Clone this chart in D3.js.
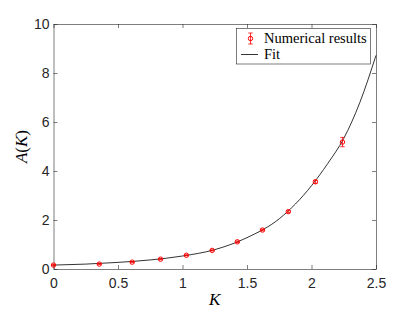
<html>
    <head>
        <style>
            body { margin: 0; background: #fff; }
            text { font-family: "Liberation Sans", Arial, sans-serif; }
        </style>
    </head>

    <body>

        <script src='https://d3js.org/d3.v7.min.js' charset='utf-8'></script>
        <script type="text/javascript">

        // data
        var kValues = [0, 0.355, 0.61, 0.83, 1.03, 1.23, 1.425, 1.62, 1.82, 2.03, 2.24];
        var aValues = [0.16, 0.2, 0.28, 0.4, 0.56, 0.76, 1.11, 1.59, 2.34, 3.56, 5.18];
        var aErrors = [0.02, 0.02, 0.02, 0.02, 0.02, 0.02, 0.03, 0.03, 0.04, 0.06, 0.19];

        // fit curve, sampled from the drawn line
        var fitK = [0, 0.25, 0.5, 0.75, 1.0, 1.25, 1.5, 1.75, 2.0, 2.125, 2.25, 2.375, 2.5];
        var fitA = [0.16, 0.2, 0.27, 0.37, 0.53, 0.79, 1.28, 2.05, 3.4, 4.3, 5.33, 6.8, 8.72];

        var xTicks = [0, 0.5, 1, 1.5, 2, 2.5];
        var yTicks = [0, 2, 4, 6, 8, 10];

        var width = 415, height = 312;
        var margin = {left: 53.5, right: 39, top: 24, bottom: 43};

        var svg = d3.select("body").append("svg")
            .attr("width", width)
            .attr("height", height);

        var x = d3.scaleLinear().domain([0, 2.5]).range([margin.left, width - margin.right]);
        var y = d3.scaleLinear().domain([0, 10]).range([height - margin.bottom, margin.top]);

        var axisColor = "#262626";
        var tickLen = 4;

        // axes (ticks inside, box on)
        var xAxis = svg.append("g")
            .attr("transform", "translate(0," + y(0) + ")")
            .call(d3.axisBottom(x).tickValues(xTicks).tickSizeInner(-tickLen).tickSizeOuter(0).tickPadding(9)
                .tickFormat(d3.format("")));
        var yAxis = svg.append("g")
            .attr("transform", "translate(" + x(0) + ",0)")
            .call(d3.axisLeft(y).tickValues(yTicks).tickSizeInner(-tickLen).tickSizeOuter(0).tickPadding(4));
        var xTop = svg.append("g")
            .attr("transform", "translate(0," + y(10) + ")")
            .call(d3.axisTop(x).tickValues(xTicks).tickSizeInner(-tickLen).tickSizeOuter(0).tickFormat(""));
        var yRight = svg.append("g")
            .attr("transform", "translate(" + x(2.5) + ",0)")
            .call(d3.axisRight(y).tickValues(yTicks).tickSizeInner(-tickLen).tickSizeOuter(0).tickFormat(""));

        [xAxis, yAxis, xTop, yRight].forEach(function(g) {
            g.selectAll("path").attr("stroke", axisColor).attr("stroke-width", 0.6);
            g.selectAll("line").attr("stroke", axisColor).attr("stroke-width", 0.6);
            g.selectAll("text").attr("fill", axisColor)
                .style("font-family", "'Liberation Sans', Arial, sans-serif")
                .style("font-size", "14px");
        });

        // fit line
        var fitData = fitK.map(function(k, i) { return [k, fitA[i]]; });
        svg.append("path")
            .datum(fitData)
            .attr("fill", "none")
            .attr("stroke", "#000")
            .attr("stroke-width", 0.8)
            .attr("d", d3.line()
                .x(function(d) { return x(d[0]); })
                .y(function(d) { return y(d[1]); })
                .curve(d3.curveMonotoneX));

        // numerical results with error bars
        var pts = kValues.map(function(k, i) { return {k: k, a: aValues[i], e: aErrors[i]}; });
        var red = "#ff0000";
        var pg = svg.append("g");
        var cap = 2.2;

        pg.selectAll(".eb").data(pts).enter().append("path")
            .attr("fill", "none")
            .attr("stroke", red)
            .attr("stroke-width", 0.8)
            .attr("d", function(d) {
                var cx = x(d.k), y1 = y(d.a + d.e), y2 = y(d.a - d.e);
                return "M" + (cx - cap) + "," + y1 + "H" + (cx + cap) +
                    "M" + cx + "," + y1 + "V" + y2 +
                    "M" + (cx - cap) + "," + y2 + "H" + (cx + cap);
            });

        pg.selectAll("circle").data(pts).enter().append("circle")
            .attr("cx", function(d) { return x(d.k); })
            .attr("cy", function(d) { return y(d.a); })
            .attr("r", 2.2)
            .attr("fill", "none")
            .attr("stroke", red)
            .attr("stroke-width", 1);

        // axis labels
        var serif = "'Liberation Serif', 'Times New Roman', serif";
        svg.append("text")
            .attr("x", x(1.25))
            .attr("y", 305)
            .attr("text-anchor", "middle")
            .style("font-family", serif)
            .style("font-style", "italic")
            .style("font-size", "17px")
            .text("K");

        var yl = svg.append("text")
            .attr("transform", "translate(27," + y(5) + ") rotate(-90)")
            .attr("text-anchor", "middle")
            .style("font-family", serif)
            .style("font-size", "17px");
        yl.append("tspan").style("font-style", "italic").text("A");
        yl.append("tspan").text("(");
        yl.append("tspan").style("font-style", "italic").text("K");
        yl.append("tspan").text(")");

        // legend
        var leg = svg.append("g");
        leg.append("rect")
            .attr("x", 236.5).attr("y", 28.5)
            .attr("width", 134).attr("height", 35.5)
            .attr("fill", "#fff")
            .attr("stroke", axisColor)
            .attr("stroke-width", 0.6);

        var lx = 250.5, ly = 38.5;
        leg.append("path")
            .attr("fill", "none").attr("stroke", red).attr("stroke-width", 0.8)
            .attr("d", "M" + (lx - cap) + "," + (ly - 5.5) + "H" + (lx + cap) +
                "M" + lx + "," + (ly - 5.5) + "V" + (ly + 5.5) +
                "M" + (lx - cap) + "," + (ly + 5.5) + "H" + (lx + cap));
        leg.append("circle")
            .attr("cx", lx).attr("cy", ly).attr("r", 2.2)
            .attr("fill", "none").attr("stroke", red).attr("stroke-width", 1);
        leg.append("line")
            .attr("x1", 241).attr("x2", 258)
            .attr("y1", 54.5).attr("y2", 54.5)
            .attr("stroke", "#000").attr("stroke-width", 0.8);

        leg.selectAll(".lt").data(["Numerical results", "Fit"]).enter().append("text")
            .attr("x", 264)
            .attr("y", function(d, i) { return 42.5 + i * 16; })
            .style("font-family", serif)
            .style("font-size", "14.5px")
            .attr("fill", "#000")
            .text(function(d) { return d; });

        </script>

    </body>
</html>
